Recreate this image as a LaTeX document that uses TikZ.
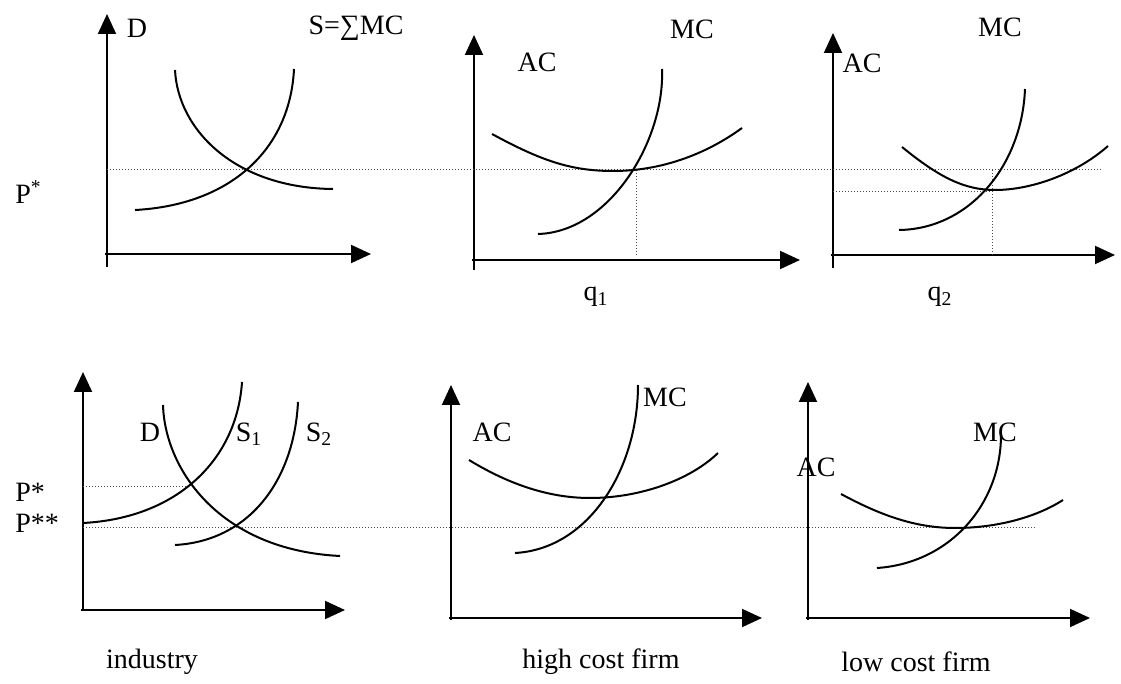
\documentclass[tikz,border=0pt]{standalone}
\usepackage{fontspec}
\setmainfont{Liberation Serif}
\usepackage{tikz}
\usetikzlibrary{arrows.meta}

\begin{document}
\begin{tikzpicture}[
        x=0.5pt, y=-0.5pt,
        axis/.style={line width=1pt, -{Triangle[length=10pt,width=9pt]}},
        curve/.style={line width=1pt},
        guide/.style={densely dotted, line width=0.5pt, black!70},
        lbl/.style={inner sep=0pt, font=\fontsize{14}{16}\selectfont}
      ]
      \useasboundingbox (0,0) rectangle (1121,684);

      \foreach \ox/\oy/\top/\right/\bot in {107/254/14/371/267, 474/260/35/800/270, 833/255/33/1115/268,
                                            83/610/372/345/610, 451/618/385/762/620, 808/618/382/1090/620} {
        \draw[axis] (\ox,\bot) -- (\ox,\top);
        \draw[axis] (\ox-2,\oy) -- (\right,\oy);
      }

      \draw[guide] (107,170) -- (1103,170);
      \draw[guide] (636,170) -- (636,255);
      \draw[guide] (833,192) -- (992,192);
      \draw[guide] (992,170) -- (992,255);
      \draw[guide] (83,487) -- (188,487);
      \draw[guide] (83,528) -- (1037,528);

      \draw[curve] (135,210) .. controls (230,205) and (290,150) .. (294,69);
      \draw[curve] (175,70) .. controls (178,130) and (235,188) .. (333,189);

      \draw[curve] (492,134) .. controls (540,160) and (570,171) .. (613,171)
                             .. controls (660,171) and (705,155) .. (742,128);
      \draw[curve] (538,234) .. controls (610,232) and (665,140) .. (662,69);

      \draw[curve] (902,147) .. controls (940,178) and (965,190) .. (995,190)
                             .. controls (1030,190) and (1075,175) .. (1108,146);
      \draw[curve] (899,230) .. controls (970,229) and (1022,165) .. (1025,89);

      \draw[curve] (83,523) .. controls (178,518) and (237,459) .. (242,382);
      \draw[curve] (163,405) .. controls (165,470) and (220,550) .. (340,556);
      \draw[curve] (175,545) .. controls (249,541) and (294,481) .. (298,402);

      \draw[curve] (469,460) .. controls (510,485) and (550,498) .. (590,498)
                             .. controls (640,498) and (690,480) .. (718,453);
      \draw[curve] (515,553) .. controls (589,549) and (638,469) .. (638,385);

      \draw[curve] (841,494) .. controls (880,515) and (915,528) .. (955,528)
                             .. controls (995,528) and (1035,518) .. (1063,500);
      \draw[curve] (877,568) .. controls (951,563) and (1001,503) .. (1001,435);

      \node[lbl] (dTop) at (137,28) {D};
      \node[lbl] (sTop) at (356,28) {S=∑MC};
      \node[lbl, anchor=west] (pTop) at (15,192) {P\textsuperscript{*}};
      \node[lbl] (acA) at (537,62) {AC};
      \node[lbl] (mcA) at (692,29) {MC};
      \node[lbl] (qA) at (596,297) {q\textsubscript{1}};
      \node[lbl] (acB) at (862,63) {AC};
      \node[lbl] (mcB) at (1000,27) {MC};
      \node[lbl] (qB) at (940,297) {q\textsubscript{2}};

      \node[lbl] (dInd) at (150,432) {D};
      \node[lbl] (sOne) at (249,434) {S\textsubscript{1}};
      \node[lbl] (sTwo) at (319,434) {S\textsubscript{2}};
      \node[lbl, anchor=west] (pOne) at (15,492) {P*};
      \node[lbl, anchor=west] (pTwo) at (15,523) {P**};
      \node[lbl] (acHigh) at (492,432) {AC};
      \node[lbl] (mcHigh) at (665,397) {MC};
      \node[lbl] (acLow) at (816,467) {AC};
      \node[lbl] (mcLow) at (995,432) {MC};

      \node[lbl] (ind) at (152,662) {industry};
      \node[lbl] (high) at (601,662) {high cost firm};
      \node[lbl] (low) at (916,662) {low cost firm};
    \end{tikzpicture}
\end{document}
